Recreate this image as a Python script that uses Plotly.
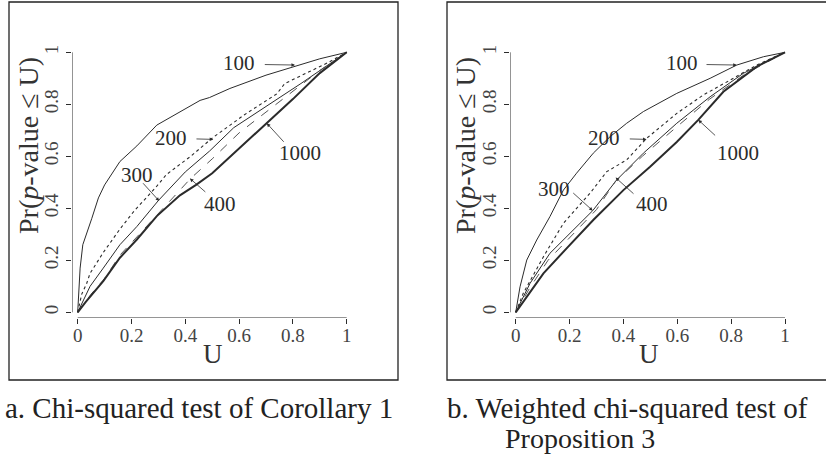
import plotly.graph_objects as go

# ---------------- data ----------------
tick_vals = [0, 0.2, 0.4, 0.6, 0.8, 1]
tick_text = ["0", "0.2", "0.4", "0.6", "0.8", "1"]
series_names = ["100", "200", "300", "400", "1000"]

# Panel a: Chi-squared test of Corollary 1
a100_u = [0, 0.005, 0.009, 0.019, 0.033, 0.052, 0.077, 0.10, 0.157, 0.22, 0.294, 0.38, 0.455, 0.49, 0.566, 0.70, 0.80, 0.90, 1]
a100_v = [0, 0.12, 0.17, 0.26, 0.30, 0.36, 0.44, 0.49, 0.58, 0.64, 0.72, 0.77, 0.815, 0.826, 0.861, 0.912, 0.945, 0.975, 1]
a200_u = [0, 0.015, 0.033, 0.046, 0.095, 0.157, 0.21, 0.29, 0.33, 0.42, 0.50, 0.62, 0.74, 0.77, 0.86, 0.93, 1]
a200_v = [0, 0.07, 0.11, 0.15, 0.23, 0.32, 0.39, 0.48, 0.53, 0.60, 0.67, 0.76, 0.84, 0.88, 0.925, 0.96, 1]
a300_u = [0, 0.046, 0.095, 0.157, 0.22, 0.30, 0.40, 0.49, 0.58, 0.70, 0.83, 0.95, 1]
a300_v = [0, 0.10, 0.17, 0.26, 0.33, 0.43, 0.54, 0.62, 0.71, 0.79, 0.88, 0.965, 1]
a400_u = [0, 0.05, 0.10, 0.157, 0.22, 0.30, 0.42, 0.50, 0.60, 0.70, 0.80, 0.90, 1]
a400_v = [0, 0.07, 0.13, 0.22, 0.29, 0.38, 0.515, 0.59, 0.69, 0.77, 0.85, 0.93, 1]
a1000_u = [0, 0.03, 0.095, 0.157, 0.22, 0.294, 0.38, 0.44, 0.50, 0.60, 0.70, 0.80, 0.90, 1]
a1000_v = [0, 0.04, 0.12, 0.21, 0.28, 0.37, 0.45, 0.49, 0.535, 0.63, 0.725, 0.82, 0.92, 1]

# Panel b: Weighted chi-squared test of Proposition 3
b100_u = [0, 0.016, 0.041, 0.078, 0.127, 0.177, 0.226, 0.288, 0.35, 0.412, 0.474, 0.598, 0.722, 0.821, 0.92, 1]
b100_v = [0, 0.098, 0.201, 0.278, 0.368, 0.47, 0.535, 0.612, 0.675, 0.727, 0.772, 0.842, 0.90, 0.951, 0.983, 1]
b200_u = [0, 0.028, 0.103, 0.177, 0.276, 0.338, 0.412, 0.486, 0.598, 0.697, 0.796, 0.895, 1]
b200_v = [0, 0.073, 0.214, 0.342, 0.458, 0.541, 0.586, 0.669, 0.765, 0.836, 0.893, 0.951, 1]
b300_u = [0, 0.053, 0.127, 0.226, 0.286, 0.375, 0.474, 0.598, 0.722, 0.845, 1]
b300_v = [0, 0.111, 0.227, 0.329, 0.391, 0.509, 0.612, 0.727, 0.829, 0.919, 1]
b400_u = [0, 0.05, 0.12, 0.22, 0.30, 0.371, 0.47, 0.60, 0.72, 0.85, 1]
b400_v = [0, 0.09, 0.20, 0.31, 0.395, 0.505, 0.60, 0.715, 0.82, 0.915, 1]
b1000_u = [0, 0.103, 0.189, 0.288, 0.40, 0.499, 0.598, 0.678, 0.771, 0.895, 1]
b1000_v = [0, 0.15, 0.246, 0.355, 0.47, 0.56, 0.655, 0.74, 0.848, 0.945, 1]

# label positions (text centre) and arrow tail/head, in data units
a_lab = {"100": (0.601, 0.958, 0.69, 0.953, 0.808, 0.951),
         "200": (0.346, 0.669, 0.436, 0.667, 0.504, 0.665),
         "1000": (0.826, 0.614, 0.771, 0.65, 0.703, 0.727),
         "300": (0.219, 0.528, 0.238, 0.502, 0.303, 0.428),
         "400": (0.529, 0.417, 0.48, 0.458, 0.417, 0.515)}
b_lab = {"100": (0.616, 0.958, 0.703, 0.953, 0.821, 0.951),
         "200": (0.328, 0.669, 0.418, 0.667, 0.486, 0.665),
         "1000": (0.827, 0.614, 0.746, 0.675, 0.678, 0.74),
         "300": (0.142, 0.473, 0.208, 0.464, 0.286, 0.391),
         "400": (0.505, 0.417, 0.443, 0.451, 0.371, 0.518)}

caption_a = "a. Chi-squared test of Corollary 1"
caption_b1 = "b. Weighted chi-squared test of"
caption_b2 = "Proposition 3"

# ---------------- figure ----------------
W, H = 826, 455
FONT = "Liberation Serif"
INK = "#2b2b2b"

def px(x):
    return x / W

def py(y):
    return 1 - y / H

styles = {
    "100": dict(color=INK, width=1.0, dash="solid"),
    "200": dict(color=INK, width=1.1, dash="dot"),
    "300": dict(color=INK, width=1.0, dash="solid"),
    "400": dict(color="#555555", width=1.0, dash="dash"),
    "1000": dict(color=INK, width=2.0, dash="solid"),
}

fig = go.Figure()

panels = [
    ("x", "y", [(a100_u, a100_v), (a200_u, a200_v), (a300_u, a300_v), (a400_u, a400_v), (a1000_u, a1000_v)], a_lab),
    ("x2", "y2", [(b100_u, b100_v), (b200_u, b200_v), (b300_u, b300_v), (b400_u, b400_v), (b1000_u, b1000_v)], b_lab),
]

for xa, ya, curves, labs in panels:
    for name, (u, v) in zip(series_names, curves):
        fig.add_trace(go.Scatter(x=u, y=v, mode="lines", name=name, line=styles[name],
                                 xaxis=xa, yaxis=ya, showlegend=False, hoverinfo="skip"))
    for name, (tx, ty, ax_, ay_, hx, hy) in labs.items():
        fig.add_annotation(x=tx, y=ty, xref=xa, yref=ya, text=name, showarrow=False,
                           xanchor="center", yanchor="middle",
                           font=dict(family=FONT, size=21, color=INK))
        fig.add_annotation(x=hx, y=hy, ax=ax_, ay=ay_, xref=xa, yref=ya, axref=xa, ayref=ya,
                           text="", showarrow=True, arrowhead=2, arrowsize=0.9,
                           arrowwidth=0.8, arrowcolor=INK, standoff=0)
    # R-style axis lines (span from first to last tick only)
    fig.add_shape(type="line", xref=xa, yref=ya, x0=0, x1=1, y0=-0.0219, y1=-0.0219,
                  line=dict(color=INK, width=1))
    fig.add_shape(type="line", xref=xa, yref=ya, x0=-0.0212, x1=-0.0212, y0=0, y1=1,
                  line=dict(color=INK, width=1))

axis_common = dict(tickvals=tick_vals, ticktext=tick_text, ticks="outside", ticklen=5,
                   tickwidth=1, tickcolor=INK, showgrid=False, zeroline=False, showline=False,
                   tickfont=dict(family=FONT, size=19, color="#444444"))

ydom = [py(318), py(47)]
fig.update_layout(
    width=W, height=H, margin=dict(l=0, r=0, t=0, b=0, autoexpand=False),
    paper_bgcolor="white", plot_bgcolor="white",
    xaxis=dict(domain=[px(72), px(350)], range=[-0.0212, 1.0123], ticklabelstandoff=-5, **axis_common),
    yaxis=dict(domain=ydom, range=[-0.0219, 1.0204], tickangle=-90, **axis_common),
    xaxis2=dict(domain=[px(510), px(788)], range=[-0.0212, 1.0111], anchor="y2",
                ticklabelstandoff=-5, **axis_common),
    yaxis2=dict(domain=ydom, range=[-0.0219, 1.0204], anchor="x2", tickangle=-90, **axis_common),
)

# panel frames
for x0, x1 in [(9, 398), (447, 840)]:
    fig.add_shape(type="rect", xref="paper", yref="paper", x0=px(x0), x1=px(x1),
                  y0=py(380), y1=py(2), line=dict(color="#222222", width=1.3))

# axis titles
for cx, tx in [(212.7, 28), (649.3, 465)]:
    fig.add_annotation(x=px(cx), y=py(354), xref="paper", yref="paper", text="U",
                       xanchor="center", yanchor="middle",
                       showarrow=False, font=dict(family=FONT, size=27, color="#333333"))
    fig.add_annotation(x=px(tx), y=py(146), xref="paper", yref="paper",
                       text="Pr(<i>p</i>-value ≤ U)", textangle=-90,
                       xanchor="center", yanchor="middle",
                       showarrow=False, font=dict(family=FONT, size=28, color="#333333"))

# captions
cap_font = dict(family=FONT, size=29, color="#222222")
cap_font2 = dict(family=FONT, size=28, color="#222222")
fig.add_annotation(x=px(4), y=py(408), xref="paper", yref="paper", text=caption_a,
                   xanchor="left", yanchor="middle", showarrow=False, font=cap_font, borderpad=0)
fig.add_annotation(x=px(446), y=py(408), xref="paper", yref="paper", text=caption_b1,
                   xanchor="left", yanchor="middle", showarrow=False, font=cap_font, borderpad=0)
fig.add_annotation(x=px(504), y=py(438), xref="paper", yref="paper", text=caption_b2,
                   xanchor="left", yanchor="middle", showarrow=False, font=cap_font2, borderpad=0)

fig.write_html("out.html", config={"displayModeBar": False},
               post_script="document.body.style.margin='0px';")
